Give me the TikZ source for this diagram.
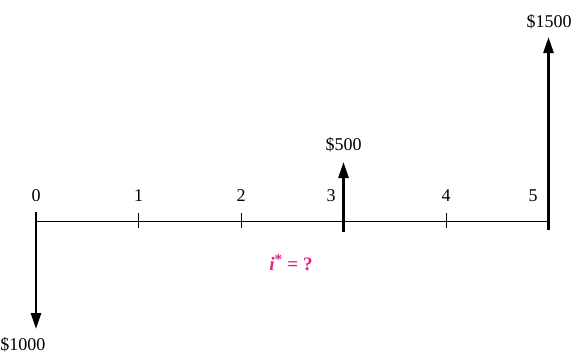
\documentclass[tikz,border=0pt]{standalone}
\usepackage{fontspec}
\setmainfont{Liberation Serif}
\usetikzlibrary{arrows.meta}
\definecolor{qmag}{RGB}{232,30,140}
\begin{document}
\begin{tikzpicture}[x=1pt,y=-1pt,
  lbl/.style={font=\fontsize{18}{21}\selectfont, inner sep=0pt},
  cash/.style={line width=2.6pt, -{Triangle[length=16pt,width=10pt]}},
  axisline/.style={line width=0.8pt},
  tickmark/.style={line width=0.8pt}]
\useasboundingbox (0,0) rectangle (576,356);
% axis points
\coordinate (t0) at (36,221);
\coordinate (t1) at (138.5,221);
\coordinate (t2) at (241,221);
\coordinate (t3) at (343.5,221);
\coordinate (t4) at (446,221);
\coordinate (t5) at (548.5,221);
\draw[axisline] (t0) -- (t5);
% ticks
\foreach \k in {1,2,4} {
  \draw[tickmark] ([yshift=-7pt]t\k) -- ([yshift=8pt]t\k);
}
% tick labels
\node[lbl] (n0) at (36,196) {0};
\node[lbl] (n1) at (138.5,196) {1};
\node[lbl] (n2) at (241,196) {2};
\node[lbl] (n3) at (331,196) {3};
\node[lbl] (n4) at (446,196) {4};
\node[lbl] (n5) at (533,196) {5};
% cash flows
\coordinate (a0s) at (36,212);
\coordinate (a0e) at (36,329);
\draw[cash] (a0s) -- (a0e);
\node[lbl] (c0) at (23,345) {\$1000};
\coordinate (a3s) at (343.5,232);
\coordinate (a3e) at (343.5,162);
\draw[cash] (a3s) -- (a3e);
\node[lbl] (c3) at (343.5,145) {\$500};
\coordinate (a5s) at (548.5,230);
\coordinate (a5e) at (548.5,37);
\draw[cash] (a5s) -- (a5e);
\node[lbl] (c5) at (549,22) {\$1500};
% unknown rate
\node[lbl, font=\fontsize{19}{22}\selectfont\bfseries, text=qmag] (irr) at (291,263) {\textit{i}\textsuperscript{\fontsize{15}{15}\selectfont *} = ?};
\end{tikzpicture}
\end{document}
